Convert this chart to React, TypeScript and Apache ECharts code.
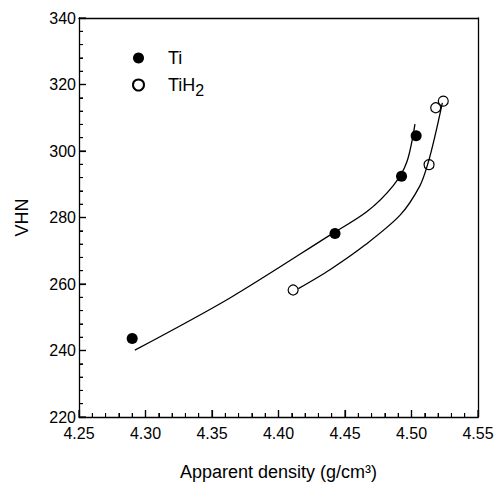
import React, { useEffect, useRef } from "react";
import * as echarts from "echarts";

const tiPoints: [number, number][] = [
  [4.29, 243.6],
  [4.4425, 275.2],
  [4.4925, 292.4],
  [4.5035, 304.6],
];
const tih2Points: [number, number][] = [
  [4.411, 258.2],
  [4.5132, 295.9],
  [4.5182, 313.0],
  [4.5239, 315.0],
];
const tiCurve: [number, number][] = [
  [4.292, 240.1],
  [4.3635, 255.8],
  [4.4387, 274.7],
  [4.4663, 281.7],
  [4.4863, 289.6],
  [4.4964, 296.6],
  [4.5026, 308.1],
];
const tih2Curve: [number, number][] = [
  [4.4149, 258.6],
  [4.4387, 264.3],
  [4.465, 271.7],
  [4.4914, 280.7],
  [4.5064, 289.6],
  [4.5126, 296.6],
  [4.5177, 304.6],
  [4.5232, 314.5],
];

const xMajorTicks = [4.25, 4.3, 4.35, 4.4, 4.45, 4.5, 4.55];
const xMinorTicks = [
  4.26, 4.27, 4.28, 4.29, 4.31, 4.32, 4.33, 4.34, 4.36, 4.37, 4.38, 4.39,
  4.41, 4.42, 4.43, 4.44, 4.46, 4.47, 4.48, 4.49, 4.51, 4.52, 4.53, 4.54,
];
const yMajorTicks = [220, 240, 260, 280, 300, 320, 340];
const yMinorTicks = [
  224, 228, 232, 236, 244, 248, 252, 256, 264, 268, 272, 276,
  284, 288, 292, 296, 304, 308, 312, 316, 324, 328, 332, 336,
];

const X_MIN = 4.25;
const X_MAX = 4.55;
const Y_MIN = 220;
const Y_MAX = 340;

const FONT = "'Liberation Sans', Arial, sans-serif";

const tickData: [number, number][] = [
  ...xMajorTicks.map((v) => [v, 0] as [number, number]),
  ...xMinorTicks.map((v) => [v, 1] as [number, number]),
  ...yMajorTicks.map((v) => [v, 2] as [number, number]),
  ...yMinorTicks.map((v) => [v, 3] as [number, number]),
];

const frameAxis = {
  type: "value",
  axisLine: { show: true, lineStyle: { color: "#000", width: 1.3 } },
  axisTick: { show: false },
  axisLabel: { show: false },
  splitLine: { show: false },
};

export default function App() {
  const ref = useRef<HTMLDivElement>(null);
  useEffect(() => {
    if (!ref.current) return;
    const chart = echarts.init(ref.current, undefined, { renderer: "svg" });
    chart.setOption({
      animation: false,
      textStyle: { fontFamily: FONT, color: "#000" },
      grid: { left: 79, right: 23, top: 18, bottom: 66 },
      legend: {
        orient: "vertical",
        left: 127,
        top: 44,
        itemWidth: 11,
        itemHeight: 11,
        itemGap: 9,
        data: ["Ti", "TiH2"],
        formatter: (name: string) => (name === "TiH2" ? "TiH{sub|2}" : name),
        textStyle: {
          fontFamily: FONT,
          fontSize: 18,
          color: "#000",
          padding: [0, 0, 0, 19],
          rich: {
            sub: { fontSize: 16, fontFamily: FONT, color: "#000", padding: [10, 0, 0, 0] },
          },
        },
      },
      xAxis: [
        {
          type: "value",
          min: X_MIN,
          max: X_MAX,
          interval: 0.05,
          name: "Apparent density (g/cm³)",
          nameLocation: "middle",
          nameGap: 46,
          nameTextStyle: { fontFamily: FONT, fontSize: 18, color: "#000" },
          axisLine: { show: true, lineStyle: { color: "#000", width: 1.3 } },
          axisTick: { show: true, inside: true, length: 7, lineStyle: { color: "#000", width: 1.2 } },
          minorTick: { show: true, splitNumber: 5, length: 4, lineStyle: { color: "#000", width: 1 } },
          splitLine: { show: false },
          axisLabel: {
            margin: 8,
            fontSize: 16,
            fontFamily: FONT,
            color: "#000",
            formatter: (v: number) => v.toFixed(2),
          },
        },
        { ...frameAxis, position: "top", min: X_MIN, max: X_MAX, interval: 0.05 },
      ],
      yAxis: [
        {
          type: "value",
          min: Y_MIN,
          max: Y_MAX,
          interval: 20,
          name: "VHN",
          nameLocation: "middle",
          nameGap: 48,
          nameTextStyle: { fontFamily: FONT, fontSize: 18, color: "#000" },
          axisLine: { show: true, lineStyle: { color: "#000", width: 1.3 } },
          axisTick: { show: true, inside: true, length: 7, lineStyle: { color: "#000", width: 1.2 } },
          minorTick: { show: true, splitNumber: 5, length: 4, lineStyle: { color: "#000", width: 1 } },
          splitLine: { show: false },
          axisLabel: { margin: 3, fontSize: 16, fontFamily: FONT, color: "#000" },
        },
        { ...frameAxis, position: "right", min: Y_MIN, max: Y_MAX, interval: 20 },
      ],
      series: [
        {
          name: "ticks",
          type: "custom",
          silent: true,
          clip: false,
          encode: { x: 0 },
          data: tickData,
          renderItem: (params: any, api: any) => {
            const v = api.value(0);
            const k = api.value(1);
            if (k === 0 || k === 1) {
              const p = api.coord([v, Y_MIN]);
              const len = k === 0 ? 7 : 4;
              return {
                type: "line",
                shape: { x1: p[0], y1: p[1], x2: p[0], y2: p[1] - len },
                style: { stroke: "#000", lineWidth: k === 0 ? 1.2 : 1 },
              };
            }
            const p = api.coord([X_MIN, v]);
            const len = k === 2 ? 7 : 4;
            return {
              type: "line",
              shape: { x1: p[0], y1: p[1], x2: p[0] + len, y2: p[1] },
              style: { stroke: "#000", lineWidth: k === 2 ? 1.2 : 1 },
            };
          },
        },
        {
          name: "Ti fit",
          type: "line",
          data: tiCurve,
          smooth: 0.3,
          showSymbol: false,
          symbol: "none",
          lineStyle: { color: "#000", width: 1.3 },
          silent: true,
        },
        {
          name: "TiH2 fit",
          type: "line",
          data: tih2Curve,
          smooth: 0.3,
          showSymbol: false,
          symbol: "none",
          lineStyle: { color: "#000", width: 1.3 },
          silent: true,
        },
        {
          name: "Ti",
          type: "scatter",
          data: tiPoints,
          symbol: "circle",
          symbolSize: 11,
          itemStyle: { color: "#000", opacity: 1 },
        },
        {
          name: "TiH2",
          type: "scatter",
          data: tih2Points,
          symbol: "circle",
          symbolSize: 10,
          itemStyle: { color: "#fff", borderColor: "#000", borderWidth: 1.2, opacity: 1 },
        },
      ],
    });
    return () => chart.dispose();
  }, []);
  return (
    <div
      ref={ref}
      style={{ position: "fixed", left: 0, top: 0, width: 501, height: 486, background: "#fff" }}
    />
  );
}
